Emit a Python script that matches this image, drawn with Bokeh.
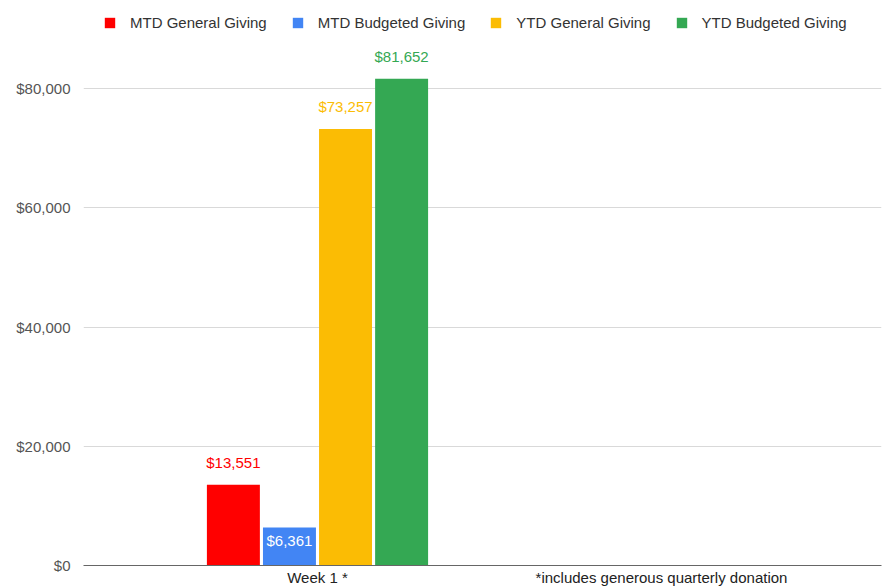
from bokeh.plotting import figure
from bokeh.models import (Range1d, FixedTicker, NumeralTickFormatter, ColumnDataSource,
                          Legend, LegendItem)
from bokeh.transform import dodge
from bokeh.core.properties import value
from bokeh.embed import file_html
from bokeh.resources import INLINE

# ---- data ----
categories = ["Week 1 *", "*includes generous quarterly donation"]
series_names = ["MTD General Giving", "MTD Budgeted Giving", "YTD General Giving", "YTD Budgeted Giving"]
series_colors = ["#ff0000", "#4285f4", "#fbbc04", "#34a853"]
mtd_general = [13551, None]
mtd_budgeted = [6361, None]
ytd_general = [73257, None]
ytd_budgeted = [81652, None]
y_ticks = [0, 20000, 40000, 60000, 80000]

series_values = [mtd_general, mtd_budgeted, ytd_general, ytd_budgeted]

FONT = "Liberation Sans"
FS = "15px"

p = figure(width=882, height=588, output_backend="svg", toolbar_location=None,
           x_range=Range1d(-0.6802, 1.6395), y_range=Range1d(0, 94800),
           min_border_left=83, min_border_right=1, min_border_top=0, min_border_bottom=0)
p.outline_line_color = None
p.background_fill_color = "white"
p.xgrid.visible = False
p.ygrid.ticker = FixedTicker(ticks=y_ticks)
p.ygrid.grid_line_color = "#d9d9d9"
p.ygrid.grid_line_width = 1

# y axis
p.yaxis.ticker = FixedTicker(ticks=y_ticks)
p.yaxis.formatter = NumeralTickFormatter(format="$0,0")
p.yaxis.axis_line_color = None
p.yaxis.major_tick_line_color = None
p.yaxis.minor_tick_line_color = None
p.yaxis.major_label_text_font = FONT
p.yaxis.major_label_text_font_size = FS
p.yaxis.major_label_text_color = "#555555"
p.yaxis.major_label_standoff = 7

# x axis
p.xaxis.ticker = FixedTicker(ticks=list(range(len(categories))))
p.xaxis.major_label_overrides = {i: c for i, c in enumerate(categories)}
p.xaxis.axis_line_color = "#666666"
p.xaxis.axis_line_width = 1
p.xaxis.major_tick_line_color = None
p.xaxis.minor_tick_line_color = None
p.xaxis.major_label_text_font = FONT
p.xaxis.major_label_text_font_size = FS
p.xaxis.major_label_text_color = "#222222"
p.xaxis.major_label_standoff = -3

bar_width = 0.154
step = 0.163
n = len(series_names)
offsets = [(i - (n - 1) / 2) * step for i in range(n)]
inside_label = [False, True, False, False]

items = []
for name, vals, color, off, inside in zip(series_names, series_values, series_colors, offsets, inside_label):
    xs = [i for i, v in enumerate(vals) if v is not None]
    tops = [v for v in vals if v is not None]
    labels = ["${:,.0f}".format(v) for v in tops]
    src = ColumnDataSource(dict(x=xs, top=tops, label=labels))
    r = p.vbar(x=dodge('x', off, range=p.x_range), top='top', width=bar_width, source=src,
               fill_color=color, line_color=None)
    p.text(x=dodge('x', off, range=p.x_range), y='top', text='label', source=src,
           text_align='center', text_baseline='middle',
           y_offset=13 if inside else -22,
           text_color="white" if inside else color,
           text_font=value(FONT), text_font_size=FS)
    items.append(LegendItem(label=name, renderers=[r]))

legend = Legend(items=items, orientation="horizontal", location=(20, 534),
                glyph_width=13, glyph_height=13, label_standoff=14, spacing=24,
                padding=0, margin=0, border_line_color=None, background_fill_alpha=0,
                label_text_font=FONT, label_text_font_size=FS, label_text_color="#333333",
                label_height=13)
p.add_layout(legend)

open("out.html", "w").write(file_html(p, INLINE))
